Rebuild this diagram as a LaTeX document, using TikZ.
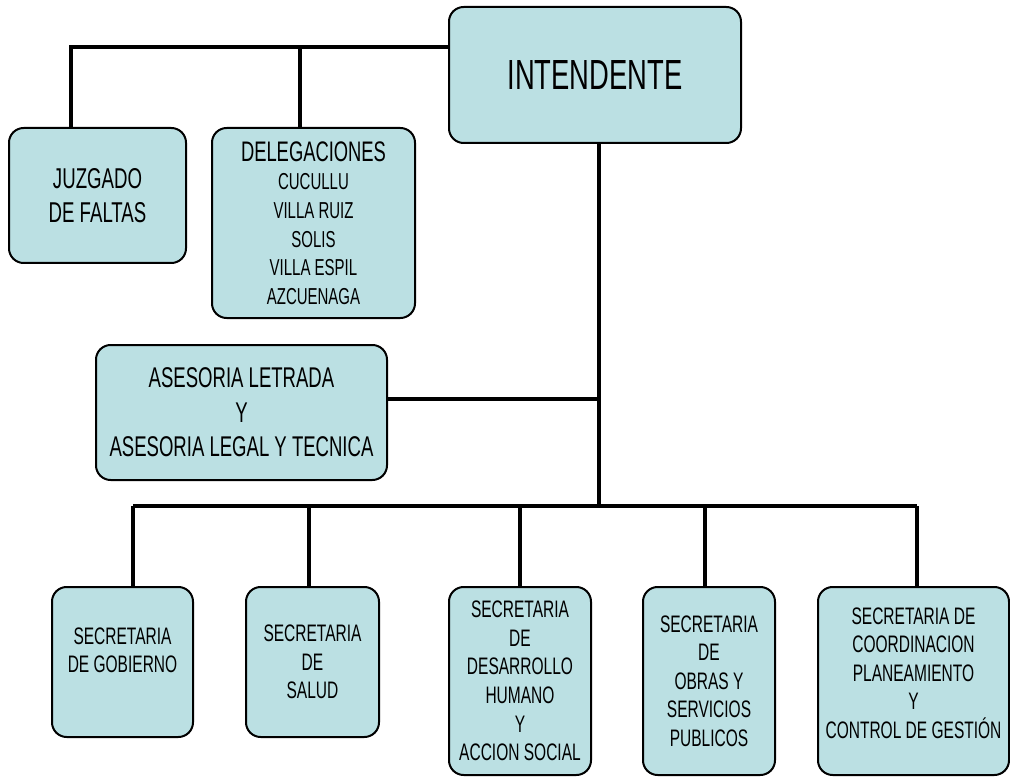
\documentclass[tikz,border=0pt]{standalone}
\usepackage{fontspec}
\setmainfont{Liberation Sans}[FakeStretch=0.65]
\usepackage{tikz}
\usetikzlibrary{
  positioning,
  calc
}
\definecolor{celeste}{RGB}{187,224,227}

\begin{document}
\begin{tikzpicture}[x=0.75pt,y=-0.75pt,
    caja/.style={draw,fill=celeste,line width=1.5pt,rounded corners=11pt,align=center,inner sep=0pt},
    linea/.style={line width=2.6pt},
    chico/.style={font=\fontsize{17.9}{21.4}\selectfont}]
  \useasboundingbox (0,0) rectangle (1010,777);

  % cajas de arriba
  \node[caja,minimum width=219pt,minimum height=102pt,font=\fontsize{31.6}{36}\selectfont] (intendente) at (595,75) {INTENDENTE};
  \node[caja,minimum width=132.75pt,minimum height=101.25pt,font=\fontsize{21.5}{25.5}\selectfont] (juzgado) at (97.5,195.5) {JUZGADO\\DE FALTAS};
  \node[caja,minimum width=152.25pt,minimum height=142.5pt,font=\fontsize{17.3}{21.4}\selectfont] (delegaciones) at (313.5,223)
    {{\fontsize{21.2}{22.5}\selectfont DELEGACIONES}\\CUCULLU\\VILLA RUIZ\\SOLIS\\VILLA ESPIL\\AZCUENAGA};
  \node[caja,minimum width=218.25pt,minimum height=101.25pt,font=\fontsize{21.4}{25.9}\selectfont] (asesoria) at (241.5,412.5)
    {ASESORIA LETRADA\\Y\\ASESORIA LEGAL Y TECNICA};

  % secretarias
  \node[caja,chico,minimum width=105.75pt,minimum height=112.5pt,text depth=18pt] (gobierno) at (122.5,662) {SECRETARIA\\DE GOBIERNO};
  \node[caja,chico,minimum width=99.75pt,minimum height=112.5pt] (salud) at (312.5,662) {SECRETARIA\\DE\\SALUD};
  \node[caja,chico,minimum width=106.5pt,minimum height=141pt] (desarrollo) at (520,681)
    {SECRETARIA\\DE\\DESARROLLO\\HUMANO\\Y\\ACCION SOCIAL};
  \node[caja,chico,minimum width=99pt,minimum height=141pt] (obras) at (709,681)
    {SECRETARIA\\DE\\OBRAS Y\\SERVICIOS\\PUBLICOS};
  \node[caja,chico,minimum width=143.25pt,minimum height=141pt,text depth=12pt] (coord) at (913.5,681)
    {SECRETARIA DE\\COORDINACION\\PLANEAMIENTO\\Y\\CONTROL DE GESTIÓN};

  % lineas
  \coordinate (alto) at (71,47);
  \coordinate (deleg) at (300,47);
  \coordinate (ases) at (599,399);
  \coordinate (bus) at (599,506);
  \draw[linea] (intendente.west |- alto) -| (juzgado.north -| alto);
  \draw[linea] (deleg) -- (delegaciones.north -| deleg);
  \draw[linea] (intendente.south -| bus) -- (bus);
  \draw[linea] (asesoria.east |- ases) -- (ases);
  \foreach \n/\x in {gobierno/133,salud/309,desarrollo/520,obras/705,coord/917}{
    \coordinate (b\n) at (\x,506);
    \draw[linea] (b\n) -- (\n.north -| b\n);
  }
  \draw[linea] (bgobierno) -- (bcoord);
\end{tikzpicture}
\end{document}
